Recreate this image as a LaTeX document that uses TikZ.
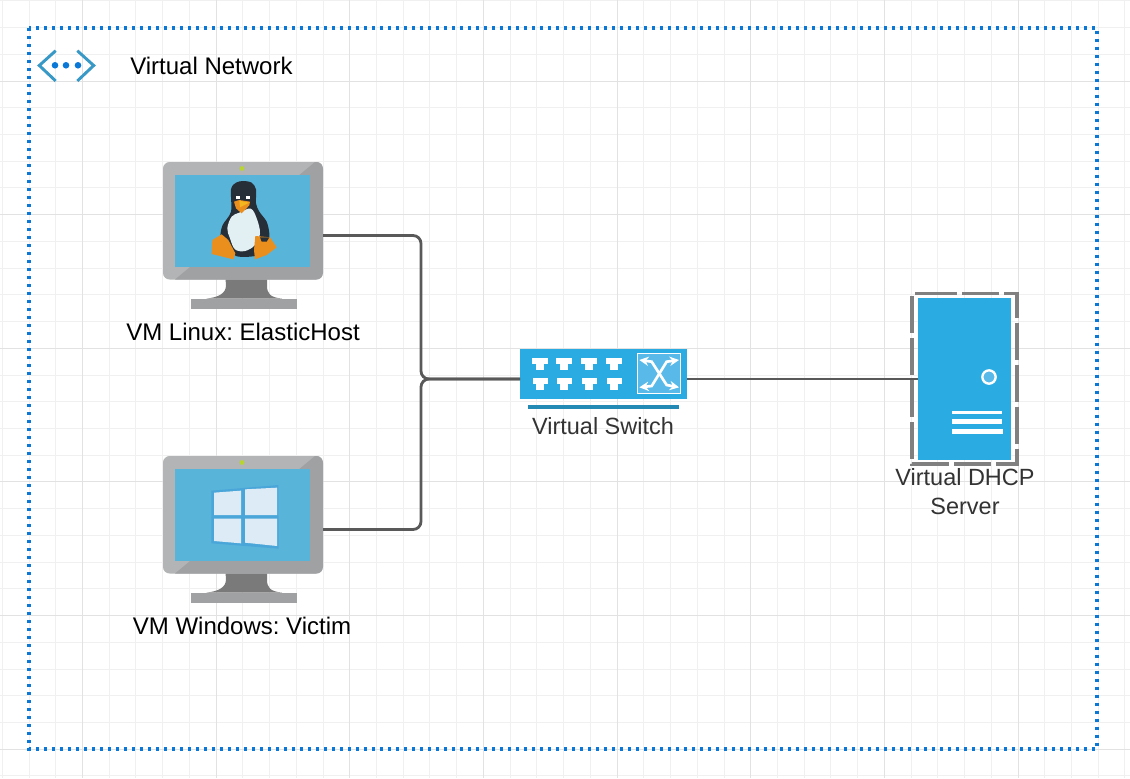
\documentclass[tikz,border=0pt]{standalone}
\usepackage{fontspec}
\setmainfont{Liberation Sans}
\usetikzlibrary{arrows.meta}
\definecolor{gridminor}{HTML}{F0F0F0}
\definecolor{gridmajor}{HTML}{E2E2E2}
\definecolor{netblue}{HTML}{0A78D7}
\definecolor{chevron}{HTML}{3999C6}
\definecolor{screenblue}{HTML}{59B4D9}
\definecolor{framelight}{HTML}{B3B4B5}
\definecolor{framedark}{HTML}{A0A1A2}
\definecolor{standgrey}{HTML}{7A7A7A}
\definecolor{ledgreen}{HTML}{B8D432}
\definecolor{tuxdark}{HTML}{262F38}
\definecolor{tuxbelly}{HTML}{E2EFF3}
\definecolor{tuxorange}{HTML}{EA8E1E}
\definecolor{tuxyellow}{HTML}{F3B61F}
\definecolor{winblue}{HTML}{4AA6D9}
\definecolor{winpane}{HTML}{DCEBF5}
\definecolor{devblue}{HTML}{2AACE3}
\definecolor{devlight}{HTML}{59B9E8}
\definecolor{bardark}{HTML}{2389B5}
\definecolor{wiregrey}{HTML}{595959}
\definecolor{textgrey}{HTML}{333333}
\definecolor{serverframe}{HTML}{808080}
\tikzset{
	label text/.style={font=\fontsize{18}{21.75}\selectfont\frenchspacing,text=black,inner sep=0pt,align=center},
	grey text/.style={font=\fontsize{17.6}{21.75}\selectfont\frenchspacing,text=textgrey,inner sep=0pt,align=center},
	icon box/.style={inner sep=0pt,outer sep=0pt,minimum width=#1},
	wire/.style={draw=wiregrey,line width=2.1pt,rounded corners=6pt},
	port/.style={fill=white,draw=none}
}
\begin{document}
\begin{tikzpicture}[x=0.75pt,y=-0.75pt]
	\useasboundingbox (0,0) rectangle (1130,778);
	\fill[white] (0,0) rectangle (1130,778);

	\foreach \k in {-3,...,41} \draw[gridminor,line width=0.75pt] (82.5+\k*26.73,0) -- (82.5+\k*26.73,778);
	\foreach \k in {-3,...,26} \draw[gridminor,line width=0.75pt] (0,81+\k*26.73) -- (1130,81+\k*26.73);
	\foreach \k in {0,...,7} \draw[gridmajor,line width=0.75pt] (82.5+\k*133.65,0) -- (82.5+\k*133.65,778);
	\foreach \k in {0,...,5} \draw[gridmajor,line width=0.75pt] (0,81+\k*133.65) -- (1130,81+\k*133.65);

	\draw[netblue,line width=2.7pt,dash pattern=on 2.3pt off 3.7pt] (29,28) rectangle (1097,749);

	\draw[chevron,line width=2.2pt] (55.7,50.7) -- (39.3,65.5) -- (55.7,81);
	\draw[chevron,line width=2.2pt] (77.3,50.7) -- (93.7,65.5) -- (77.3,81);
	\foreach \x in {55,66,78} \fill[netblue] (\x,65.3) circle (3.3);
	\node[label text,anchor=west] (netlabel) at (130,66) {Virtual Network};

	\node[icon box=120pt,minimum height=109.5pt] (linux) at (243,235.5) {};
	\node[icon box=120pt,minimum height=109.5pt] (windows) at (243,529.5) {};
	\foreach \vm in {linux,windows} {
		\begin{scope}[shift={(\vm.center)}]
			\fill[standgrey] (-17.5,43) -- (-17,50) .. controls (-17,58) and (-25,62) .. (-36.5,63) -- (39,63) .. controls (27,62) and (24,58) .. (24,50) -- (24,43) -- cycle;
			\fill[framedark] (-52,63.5) rectangle (54,73.5);
			\begin{scope}
				\clip[rounded corners=5pt] (-80,-73.5) rectangle (80,44);
				\fill[framelight] (-80,-73.5) rectangle (80,44);
				\fill[framedark] (72,-73.5) -- (80,-73.5) -- (80,44) -- (-68,44) -- (-53,31.5) -- (56.3,-60.5) -- cycle;
			\end{scope}
			\fill[screenblue] (-68,-60.5) rectangle (67,31.5);
			\fill[ledgreen] (-1,-67) circle (2.4);
		\end{scope}
	}

	\begin{scope}[shift={(150,150)},x=0.25pt,y=-0.25pt]
		\fill[tuxdark] plot[smooth cycle,tension=0.5] coordinates {(280,93) (305,98) (318,118) (318,160) (328,185) (350,215) (358,250) (355,275) (330,300) (315,318) (258,318) (235,285) (212,260) (218,225) (243,185) (243,118) (258,98)};
		\fill[tuxbelly] plot[smooth cycle,tension=0.6] coordinates {(268,188) (302,176) (320,205) (330,250) (315,285) (285,303) (255,298) (240,265) (232,235) (245,200)};
		\fill[white] (257,137) rectangle (270,147);
		\fill[white] (288,137) rectangle (299,147);
		\fill[tuxorange] (252,155) -- (268,150) -- (300,155) -- (298,166) -- (275,190) -- (258,175) -- cycle;
		\fill[tuxyellow] (268,152) -- (298,158) -- (270,172) -- cycle;
		\fill[tuxorange] (215,253) -- (235,270) -- (256,310) -- (250,328) -- (210,318) -- (185,312) -- (187,270) -- cycle;
		\fill[tuxorange] (316,258) -- (360,262) -- (380,292) -- (350,315) -- (315,328) -- (312,300) -- cycle;
		\fill[tuxdark] (330,262) -- (358,262) -- (350,275) -- (335,275) -- cycle;
	\end{scope}

	\begin{scope}[shift={(150,445)},x=0.25pt,y=-0.25pt]
		\fill[winblue] (184,137) -- (385,120) -- (386,311) -- (184,295) -- cycle;
		\fill[winpane] (192,143) -- (273,137) -- (273,210) -- (192,210) -- cycle;
		\fill[winpane] (285,133) -- (381,128) -- (381,210) -- (285,210) -- cycle;
		\fill[winpane] (192,221) -- (273,221) -- (273,295) -- (192,288) -- cycle;
		\fill[winpane] (285,221) -- (381,221) -- (381,303) -- (285,293) -- cycle;
	\end{scope}

	\node[label text] (linuxlabel) at (243,332) {VM Linux: ElasticHost};
	\node[label text] (windowslabel) at (242,626) {VM Windows: Victim};

	\node[icon box=125.25pt,minimum height=45pt] (switch) at (603.5,379) {};
	\fill[devblue] (520,349) rectangle (687,399);
	\fill[bardark] (528,405) rectangle (679,409);
	\begin{scope}[shift={(510,340)},x=0.25pt,y=-0.25pt]
		\foreach \x in {66,138,213,288} {
			\fill[port] (\x,54) rectangle ++(47,18);
			\fill[port] (\x+13,72) rectangle ++(22,18);
			\fill[port] (\x+2,114) rectangle ++(47,19);
			\fill[port] (\x+13,133) rectangle ++(24,17);
		}
		\draw[white,line width=0.75pt,fill=devlight] (382,40) rectangle (512,160);
		\draw[white,line width=2pt,{Stealth[length=7pt,width=7pt]}-{Stealth[length=7pt,width=7pt]}] (388,60) -- (425,65) -- (470,135) -- (507,142);
		\draw[white,line width=2pt,{Stealth[length=7pt,width=7pt]}-{Stealth[length=7pt,width=7pt]}] (388,142) -- (425,138) -- (470,65) -- (507,60);
	\end{scope}
	\node[grey text] (switchlabel) at (603,426) {Virtual Switch};

	\draw[serverframe,line width=2.4pt,dash pattern=on 27.75pt off 3.75pt] (920,293.5) -- (1017,293.5) -- (1017,464) -- (912,464) -- (912,293.5) -- cycle;
	\node[fill=devblue,inner sep=0pt,outer sep=0pt,minimum width=69.75pt,minimum height=121.5pt] (server) at (964.5,379) {};
	\begin{scope}[shift={(900,280)},x=0.25pt,y=-0.25pt]
		\draw[white,line width=1.75pt,fill=devlight] (267,291) circle (20);
		\fill[white] (156,393) rectangle (306,402);
		\fill[white] (156,417) rectangle (306,432);
		\fill[white] (156,447) rectangle (309,462);
	\end{scope}
	\node[grey text] (serverlabel) at (965,491.5) {Virtual DHCP\\Server};

	\coordinate (junction) at (421,379);
	\draw[wire] (linux.east) -| (junction) -- (switch.west);
	\draw[wire] (windows.east) -| (junction) -- (switch.west);
	\draw[wire] (switch.east) -- (server.west);
\end{tikzpicture}
\end{document}
